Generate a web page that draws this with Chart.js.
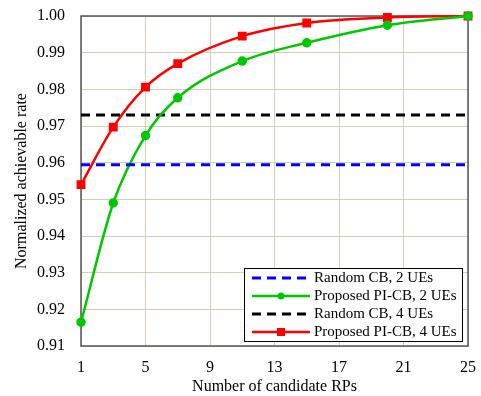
<!DOCTYPE html>
<html>
<head>
<meta charset="utf-8">
<script src="https://cdn.jsdelivr.net/npm/chart.js@4"></script>
<style>
  html, body { margin: 0; padding: 0; background: #fff; }
  #wrap { width: 481px; height: 396px; }
</style>
</head>
<body>
<div id="wrap"><canvas id="chart"></canvas></div>
<script>
const rpCounts = [1, 3, 5, 7, 11, 15, 20, 25];
const proposed2 = [0.9165, 0.9490, 0.9674, 0.9777, 0.9877, 0.9927, 0.9975, 1.0000];
const proposed4 = [0.9540, 0.9697, 0.9806, 0.9870, 0.9945, 0.9981, 0.9996, 1.0000];
const random2 = 0.9594;
const random4 = 0.9730;
const xTicks = [1, 5, 9, 13, 17, 21, 25];

function pts(xs, ys) {
  return xs.map((x, i) => ({ x: x, y: ys[i] }));
}
function flat(v) {
  return [{ x: 1, y: v }, { x: 25, y: v }];
}

const serif = 'Liberation Serif, Times New Roman, serif';

// legend drawn inside the plot, bottom right, with a frame
const boxLegend = {
  id: 'boxLegend',
  beforeDatasetsDraw(chart) {
    const ctx = chart.ctx;
    const a = chart.chartArea;
    ctx.save();
    ctx.strokeStyle = '#555';
    ctx.lineWidth = 1.5;
    ctx.strokeRect(a.left, a.top, a.right - a.left, a.bottom - a.top);
    ctx.restore();
  },
  afterDatasetsDraw(chart) {
    const ctx = chart.ctx;
    const a = chart.chartArea;
    const x0 = a.right - 224, y0 = a.bottom - 78, w = 218, h = 73;
    ctx.save();
    ctx.fillStyle = '#fff';
    ctx.fillRect(x0, y0, w, h);
    ctx.strokeStyle = '#000';
    ctx.lineWidth = 1;
    ctx.strokeRect(x0 + 0.5, y0 + 0.5, w, h);
    ctx.font = '15px ' + serif;
    ctx.textBaseline = 'middle';
    chart.data.datasets.forEach((ds, i) => {
      const y = y0 + 10 + i * 18;
      ctx.strokeStyle = ds.borderColor;
      ctx.lineWidth = ds.borderWidth;
      ctx.setLineDash(ds.borderDash || []);
      ctx.beginPath();
      ctx.moveTo(x0 + 8, y);
      ctx.lineTo(x0 + 66, y);
      ctx.stroke();
      ctx.setLineDash([]);
      ctx.fillStyle = ds.borderColor;
      if (ds.pointStyle === 'circle') {
        ctx.beginPath();
        ctx.arc(x0 + 37, y, 3.5, 0, Math.PI * 2);
        ctx.fill();
      } else if (ds.pointStyle === 'rect') {
        ctx.fillRect(x0 + 33, y - 4, 8, 8);
      }
      ctx.fillStyle = '#000';
      ctx.fillText(ds.label, x0 + 70, y);
    });
    ctx.restore();
  }
};

new Chart(document.getElementById('chart'), {
  type: 'line',
  data: {
    datasets: [
      {
        label: 'Random CB, 2 UEs',
        data: flat(random2),
        borderColor: '#0000ff',
        borderWidth: 3,
        borderDash: [9, 6],
        pointRadius: 0
      },
      {
        label: 'Proposed PI-CB, 2 UEs',
        data: pts(rpCounts, proposed2),
        borderColor: '#00c800',
        backgroundColor: '#00c800',
        borderWidth: 2.5,
        pointStyle: 'circle',
        pointRadius: 3.5,
        cubicInterpolationMode: 'monotone',
        clip: false
      },
      {
        label: 'Random CB, 4 UEs',
        data: flat(random4),
        borderColor: '#000000',
        borderWidth: 3,
        borderDash: [9, 6],
        pointRadius: 0
      },
      {
        label: 'Proposed PI-CB, 4 UEs',
        data: pts(rpCounts, proposed4),
        borderColor: '#ff0000',
        backgroundColor: '#ff0000',
        borderWidth: 2.5,
        pointStyle: 'rect',
        pointRadius: 4.5,
        cubicInterpolationMode: 'monotone',
        clip: false
      }
    ]
  },
  options: {
    responsive: true,
    maintainAspectRatio: false,
    animation: false,
    layout: { padding: { top: 16, right: 13, left: 0, bottom: 0 } },
    plugins: {
      legend: { display: false },
      tooltip: { enabled: false }
    },
    scales: {
      x: {
        type: 'linear',
        min: 1,
        max: 25,
        afterBuildTicks(scale) {
          scale.ticks = xTicks.map(v => ({ value: v }));
        },
        afterFit(scale) {
          scale.height = 50;
          scale.paddingLeft = 0;
          scale.paddingRight = 0;
        },
        grid: { color: '#d6cfae', drawTicks: false },
        border: { display: false },
        ticks: {
          color: '#000',
          padding: 12,
          font: { family: serif, size: 16 }
        },
        title: {
          display: true,
          text: 'Number of candidate RPs',
          color: '#000',
          padding: { top: 0, bottom: 0 },
          font: { family: serif, size: 16 }
        }
      },
      y: {
        min: 0.91,
        max: 1.0,
        afterFit(scale) {
          scale.width = 81;
          scale.paddingTop = 0;
          scale.paddingBottom = 0;
        },
        grid: { color: '#d6cfae', drawTicks: false },
        border: { display: false },
        ticks: {
          stepSize: 0.01,
          color: '#000',
          padding: 16,
          font: { family: serif, size: 16 },
          callback: v => v.toFixed(2)
        },
        title: {
          display: true,
          text: 'Normalized achievable rate',
          color: '#000',
          padding: { top: 12, bottom: 0 },
          font: { family: serif, size: 16 }
        }
      }
    }
  },
  plugins: [boxLegend]
});
</script>
</body>
</html>
